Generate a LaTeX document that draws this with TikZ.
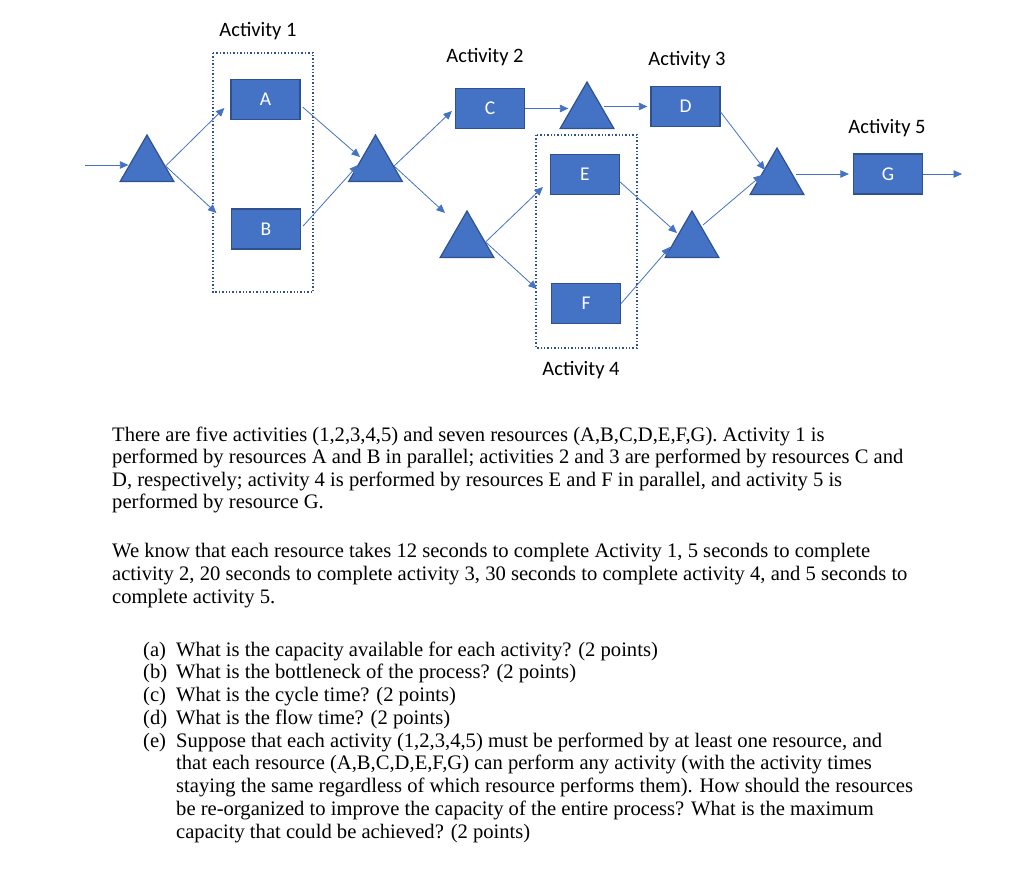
\documentclass[tikz,border=0pt]{standalone}
\usepackage{fontspec}
\setmainfont{Liberation Serif}
\newfontfamily\calib{Carlito}
\usetikzlibrary{arrows.meta,shapes.geometric,calc}
\definecolor{fillblue}{HTML}{4472C4}
\definecolor{edgeblue}{HTML}{2F528F}
\definecolor{lineblue}{HTML}{4472C4}
\begin{document}
\begin{tikzpicture}[x=1pt,y=-1pt,
 res/.style={rectangle,fill=fillblue,draw=edgeblue,line width=1.2pt,minimum width=69pt,minimum height=40pt,inner sep=0pt,text=white,font=\calib\fontsize{19.5}{22}\selectfont},
 tri/.style={regular polygon,regular polygon sides=3,fill=fillblue,draw=edgeblue,line width=1.2pt,minimum size=62pt,inner sep=0pt},
 conn/.style={draw=lineblue,line width=0.8pt,-{Triangle[length=8.5pt,width=7.5pt]}},
 group/.style={draw=edgeblue,dotted,line width=1.4pt},
 act/.style={font=\calib\fontsize{20.5}{24}\selectfont,inner sep=0pt},
 txt/.style={anchor=base west,inner sep=0pt,font=\fontsize{20.6}{22}\selectfont}]
\useasboundingbox (0,0) rectangle (1024,875);
\fill[white] (0,0) rectangle (1024,875);

% groups
\draw[group] (213,53) rectangle (313,292);
\draw[group] (536,135) rectangle (637,348);

% labels
\node[act] (act1) at (258,31) {Activity 1};
\node[act] (act2) at (485,57) {Activity 2};
\node[act] (act3) at (687,60) {Activity 3};
\node[act] (act4) at (581,370) {Activity 4};
\node[act] (act5) at (887,128) {Activity 5};

% triangles
\node[tri] (T1) at (147,166) {};
\node[tri] (T2) at (375.5,166) {};
\node[tri] (T3) at (467,242) {};
\node[tri] (T4) at (587,113) {};
\node[tri] (T5) at (692,242) {};
\node[tri] (T6) at (777,179) {};

% resources
\node[res] (A) at (265.5,99.5) {A};
\node[res] (B) at (266,229) {B};
\node[res] (C) at (490,108.5) {C};
\node[res] (D) at (685.5,106.5) {D};
\node[res] (E) at (585,174.5) {E};
\node[res] (F) at (586,303.5) {F};
\node[res] (G) at (888,174) {G};

\coordinate (in) at (85,165);
\coordinate (out) at (962,174);

% connectors
\draw[conn] (in) -- (in -| T1.west);
\draw[conn] (T1.east) -- ($(A.west)+(-6,8.5)$);
\draw[conn] (T1.east) -- ($(B.west)+(-14.5,-16)$);
\draw[conn] ($(A.east)+(2,7.5)$) -- ($(T2.center)+(-15.5,-9)$);
\draw[conn] ($(B.east)+(2,-3)$) -- ($(T2.center)+(-17.5,-1)$);
\draw[conn] (T2.east) -- ($(C.west)+(-3,2.5)$);
\draw[conn] (T2.east) -- ($(T3.center)+(-22,-29)$);
\draw[conn] (C.east) -- (C.east -| T4.west);
\draw[conn] ($(T4.east |- D.west)+(-2,0)$) -- ($(D.west)+(-3,0)$);
\draw[conn] (T3.east) -- ($(E.west)+(-7,12.5)$);
\draw[conn] (T3.east) -- ($(F.west)+(-14,-14.5)$);
\draw[conn] ($(E.east)+(0,7.5)$) -- ($(T5.center)+(-15,-9)$);
\draw[conn] (F.east) -- ($(T5.center)+(-22,5)$);
\draw[conn] ($(D.east)+(0,5.5)$) -- ($(T6.center)+(-12,-9)$);
\draw[conn] ($(T5.center)+(11,-17)$) -- ($(T6.center)+(-15,-4)$);
\draw[conn] (T6.east |- G.west) -- ($(G.west)+(-4,0)$);
\draw[conn] (G.east) -- (out);

% text
\node[txt] (p1) at (112,441) {There are five activities (1,2,3,4,5) and seven resources (A,B,C,D,E,F,G). Activity 1 is};
\node[txt] (p2) at (112,463.5) {performed by resources A and B in parallel; activities 2 and 3 are performed by resources C and};
\node[txt] (p3) at (112,486) {D, respectively; activity 4 is performed by resources E and F in parallel, and activity 5 is};
\node[txt] (p4) at (112,508) {performed by resource G.};

\node[txt] (q1) at (112,557.5) {We know that each resource takes 12 seconds to complete Activity 1, 5 seconds to complete};
\node[txt] (q2) at (112,580.5) {activity 2, 20 seconds to complete activity 3, 30 seconds to complete activity 4, and 5 seconds to};
\node[txt] (q3) at (112,603) {complete activity 5.};

\node[txt] (la) at (143,656) {(a)};
\node[txt] (ta) at (176,656) {What is the capacity available for each activity? (2 points)};
\node[txt] (lb) at (143,678.75) {(b)};
\node[txt] (tb) at (176,678.75) {What is the bottleneck of the process? (2 points)};
\node[txt] (lc) at (143,701.5) {(c)};
\node[txt] (tc) at (176,701.5) {What is the cycle time? (2 points)};
\node[txt] (ld) at (143,724.25) {(d)};
\node[txt] (td) at (176,724.25) {What is the flow time? (2 points)};
\node[txt] (le) at (143,747) {(e)};
\node[txt] (te1) at (176,747) {Suppose that each activity (1,2,3,4,5) must be performed by at least one resource, and};
\node[txt] (te2) at (176,769.75) {that each resource (A,B,C,D,E,F,G) can perform any activity (with the activity times};
\node[txt] (te3) at (176,792.5) {staying the same regardless of which resource performs them). How should the resources};
\node[txt] (te4) at (176,815.25) {be re-organized to improve the capacity of the entire process? What is the maximum};
\node[txt] (te5) at (176,838) {capacity that could be achieved? (2 points)};
\end{tikzpicture}
\end{document}
